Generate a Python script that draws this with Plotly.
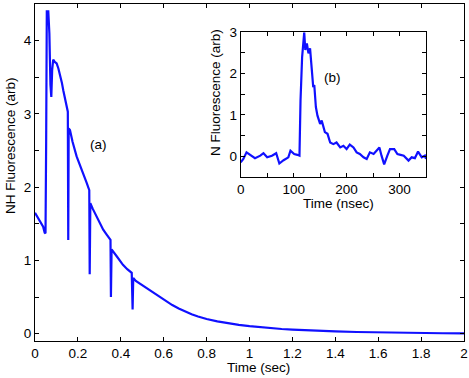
import plotly.graph_objects as go

# Painel (a): fluorescencia NH vs tempo (s)
t_nh = [0.0, 0.01, 0.02, 0.03, 0.038, 0.045, 0.049, 0.052, 0.055, 0.062, 0.067, 0.072, 0.076, 0.080,
        0.085, 0.092, 0.101, 0.109, 0.117, 0.125, 0.132, 0.140, 0.148, 0.153,
        0.155, 0.157, 0.163, 0.175, 0.194, 0.210, 0.225, 0.241, 0.253,
        0.255, 0.258, 0.270, 0.287, 0.302, 0.318, 0.335, 0.352,
        0.354, 0.357, 0.380, 0.410, 0.430, 0.451,
        0.455, 0.458, 0.47, 0.49, 0.52, 0.55, 0.58, 0.61, 0.64, 0.67, 0.70, 0.73, 0.76, 0.80,
        0.85, 0.90, 0.95, 1.0, 1.05, 1.1, 1.15, 1.2, 1.25, 1.3, 1.4, 1.5, 1.6, 1.7, 1.8, 1.9, 2.0]
y_nh = [1.65, 1.60, 1.54, 1.49, 1.46, 1.38, 1.37, 2.60, 4.40, 4.40, 4.10, 3.40, 3.23, 3.60,
        3.74, 3.71, 3.69, 3.62, 3.53, 3.43, 3.32, 3.22, 3.10, 3.03,
        1.28, 2.80, 2.78, 2.62, 2.42, 2.28, 2.18, 2.06, 1.96,
        0.81, 1.78, 1.70, 1.60, 1.51, 1.42, 1.35, 1.28,
        0.50, 1.15, 1.06, 0.94, 0.88, 0.83,
        0.33, 0.76, 0.72, 0.68, 0.62, 0.56, 0.50, 0.44, 0.39, 0.345, 0.30, 0.265, 0.235, 0.20,
        0.168, 0.142, 0.12, 0.102, 0.087, 0.075, 0.064, 0.055, 0.047, 0.041, 0.031, 0.023,
        0.017, 0.012, 0.009, 0.006, 0.004]

# Painel (b): fluorescencia N vs tempo (ns)
t_n = [0, 5, 11, 18, 27, 37, 43, 50, 59, 67, 73, 81, 90, 94, 101, 107, 111, 113, 116, 120,
       122, 125, 128, 131, 134, 137, 139, 142, 145, 150, 153, 156, 159, 164, 169, 175, 181,
       188, 194, 200, 206, 213, 219, 225, 232, 238, 244, 251, 257, 262, 266, 271, 277, 282,
       290, 296, 302, 308, 317, 323, 329, 335, 342, 348, 350]
y_n = [-0.15, -0.07, 0.09, 0.03, -0.05, 0.01, 0.07, -0.03, 0.01, 0.07, -0.18, -0.10, -0.03,
       0.13, 0.05, 0.03, 0.01, 1.35, 2.40, 3.0, 2.57, 2.73, 2.49, 2.61, 2.08, 1.67, 1.72, 1.19,
       0.98, 0.78, 0.86, 0.70, 0.58, 0.54, 0.33, 0.29, 0.33, 0.21, 0.25, 0.17, 0.28, 0.21, 0.09,
       0.05, -0.03, -0.07, 0.09, 0.05, 0.13, 0.21, 0.01, -0.20, 0.01, 0.17, 0.17, 0.05, 0.03,
       0.01, -0.11, -0.03, -0.05, 0.11, -0.03, 0.01, -0.07]

fonte = dict(family="Liberation Sans, Arial, sans-serif", size=13.5, color="black")
azul = "#1010ff"

fig = go.Figure()
fig.add_trace(go.Scatter(x=t_nh, y=y_nh, mode="lines", line=dict(color=azul, width=2.2),
                         xaxis="x", yaxis="y", showlegend=False))
fig.add_trace(go.Scatter(x=t_n, y=y_n, mode="lines", line=dict(color=azul, width=2.2),
                         xaxis="x2", yaxis="y2", showlegend=False))

eixo = dict(showline=True, linecolor="black", linewidth=1, mirror="ticks", ticks="inside",
            ticklen=4, tickcolor="black", showgrid=False, zeroline=False, tickfont=fonte,
            automargin=False)
menor = lambda d: dict(ticks="inside", dtick=d, ticklen=4, tickcolor="black")

fig.update_layout(
    width=469, height=378,
    margin=dict(l=35, r=5, t=4, b=37),
    paper_bgcolor="white", plot_bgcolor="white",
    font=fonte,
    xaxis=dict(eixo, domain=[0, 1], range=[0, 2], dtick=0.2, tick0=0),
    yaxis=dict(eixo, domain=[0, 1], range=[-0.1, 4.5], dtick=1, tick0=0, minor=menor(0.5)),
    xaxis2=dict(eixo, domain=[0.4795, 0.9114], range=[0, 350], dtick=100, tick0=0,
                anchor="y2", minor=menor(50)),
    yaxis2=dict(eixo, domain=[0.4875, 0.916], range=[-0.5, 3], dtick=1, tick0=0,
                anchor="x2", minor=menor(0.5)),
)

# textos posicionados em pixels -> coordenadas do papel
W, H = 469, 378
l, r, t, b = 35, 5, 4, 37
textos = [
    ("NH Fluorescence (arb)", 10, 146, -90),
    ("Time (sec)", 258, 367, 0),
    ("N Fluorescence (arb)", 215, 93, -90),
    ("Time (nsec)", 338, 203, 0),
    ("(a)", 98.5, 144, 0),
    ("(b)", 332, 77.5, 0),
]
for txt, px, py, ang in textos:
    fig.add_annotation(text=txt, textangle=ang, showarrow=False, font=fonte,
                       xref="paper", yref="paper",
                       x=(px - l) / (W - l - r), y=(H - b - py) / (H - t - b),
                       xanchor="center", yanchor="middle")

# tira a margem padrao do body para o grafico ocupar a janela toda
fig.write_html("out.html", config={"displayModeBar": False},
               post_script="document.body.style.margin='0';document.body.style.overflow='hidden';")
